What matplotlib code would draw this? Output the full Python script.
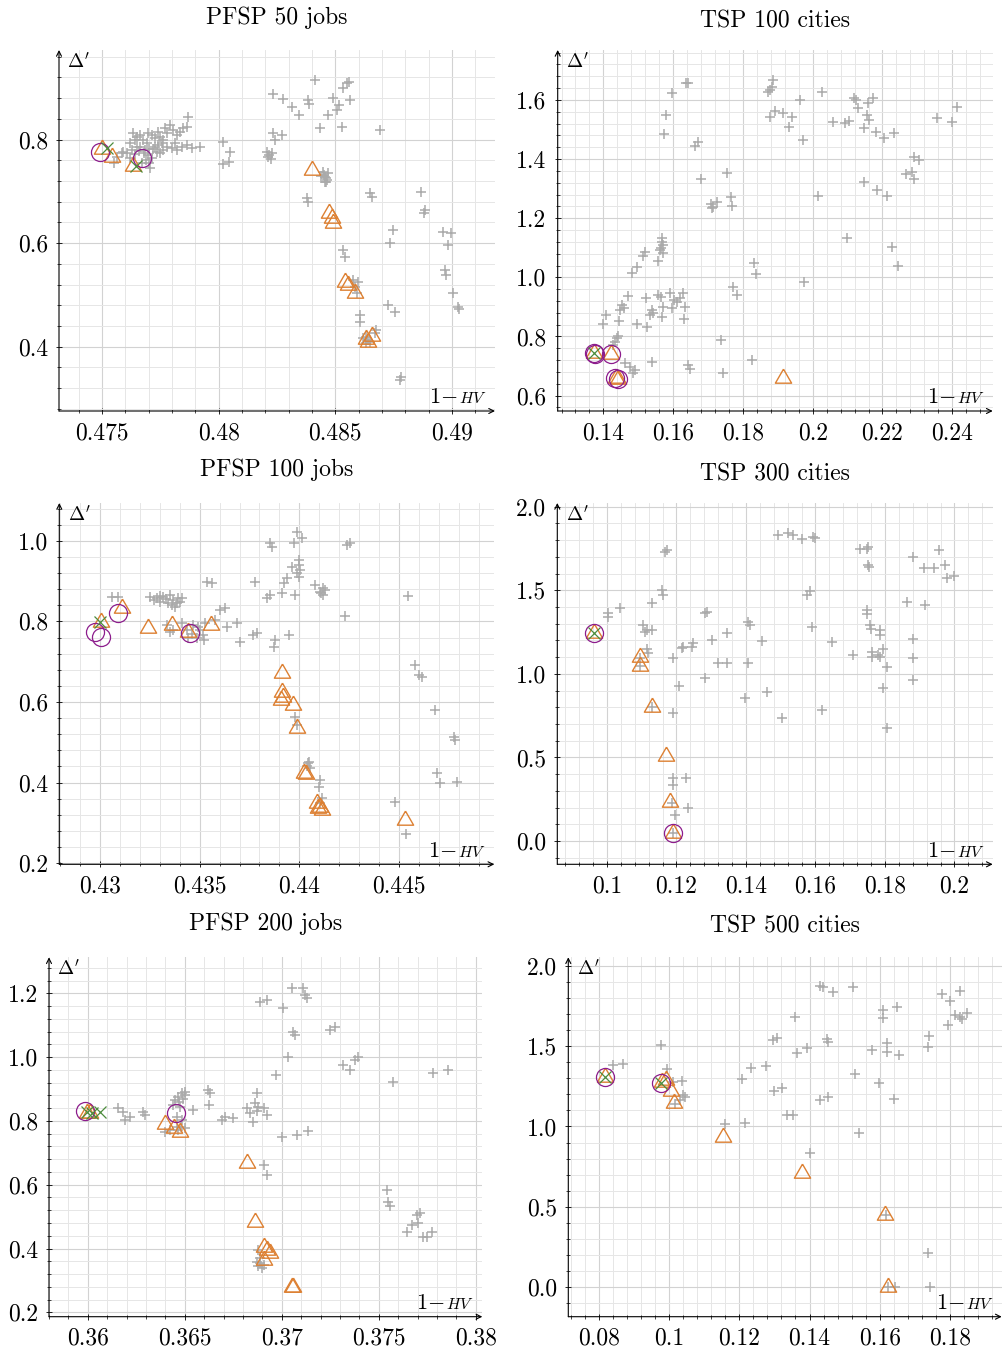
import numpy as np
import matplotlib
matplotlib.use("Agg")
import matplotlib.pyplot as plt
from matplotlib.ticker import MultipleLocator

plt.rcParams['font.family'] = 'serif'
plt.rcParams['font.serif'] = ['cmr10']
plt.rcParams['mathtext.fontset'] = 'cm'
plt.rcParams['axes.formatter.use_mathtext'] = True

# ---- PFSP 50 jobs ----
pfsp50_gray = np.array([
    [0.47586, 0.7737], [0.47592, 0.7768], [0.47635, 0.8124], [0.47650, 0.8058], [0.47664, 0.8091],
    [0.47678, 0.7994], [0.47692, 0.7930], [0.47699, 0.8124], [0.47714, 0.8091], [0.47728, 0.8027],
    [0.47742, 0.8155], [0.47749, 0.8058], [0.47757, 0.7930], [0.47771, 0.8220], [0.47778, 0.8124],
    [0.47792, 0.8284], [0.47806, 0.8187], [0.47813, 0.7930], [0.47821, 0.8091], [0.47835, 0.8155],
    [0.47849, 0.8220], [0.47864, 0.8251], [0.47870, 0.8444], [0.47778, 0.7865], [0.47799, 0.7834],
    [0.47821, 0.7801], [0.47842, 0.7865], [0.47864, 0.7898], [0.47885, 0.7834], [0.47920, 0.7865],
    [0.47714, 0.7641], [0.47707, 0.7447], [0.47735, 0.7768], [0.47699, 0.7704], [0.47650, 0.7865],
    [0.47628, 0.7801], [0.47607, 0.7737], [0.47564, 0.7671], [0.47550, 0.7544], [0.47664, 0.7865],
    [0.47685, 0.7801], [0.47728, 0.7865], [0.47749, 0.7737], [0.47621, 0.7930], [0.47642, 0.7994],
    [0.47700, 0.7550], [0.47690, 0.7600], [0.47660, 0.7780], [0.47680, 0.7740], [0.47720, 0.7820],
    [0.47740, 0.7900], [0.47760, 0.8000], [0.47640, 0.7720], [0.47700, 0.7820], [0.47620, 0.7650],
    [0.47670, 0.7550], [0.47760, 0.7790],
    [0.48018, 0.7961], [0.48049, 0.7755], [0.48018, 0.7523], [0.48043, 0.7575],
    [0.48206, 0.7768], [0.48213, 0.7672], [0.48227, 0.7736], [0.48223, 0.7626], [0.48216, 0.7700],
    [0.48234, 0.8122], [0.48241, 0.7994], [0.48270, 0.8090],
    [0.48234, 0.8876], [0.48277, 0.8786], [0.48313, 0.8638], [0.48344, 0.8477],
    [0.48384, 0.8766], [0.48388, 0.8689], [0.48412, 0.9153], [0.48434, 0.8219],
    [0.48491, 0.8799], [0.48505, 0.8573], [0.48517, 0.8670], [0.48469, 0.8477],
    [0.48534, 0.9000], [0.48548, 0.9089], [0.48559, 0.9121], [0.48562, 0.8766], [0.48527, 0.8251],
    [0.48690, 0.8187],
    [0.48448, 0.7382], [0.48455, 0.7285], [0.48462, 0.7188], [0.48469, 0.7349], [0.48455, 0.7188],
    [0.48460, 0.7250], [0.48452, 0.7320], [0.48466, 0.7220], [0.48440, 0.7290],
    [0.48377, 0.6866], [0.48384, 0.6802], [0.48648, 0.6963], [0.48659, 0.6899],
    [0.48534, 0.5868], [0.48541, 0.5739],
    [0.48576, 0.5288], [0.48584, 0.5159], [0.48591, 0.5031], [0.48598, 0.5256],
    [0.48605, 0.4612], [0.48605, 0.4483],
    [0.48633, 0.4193], [0.48633, 0.4065], [0.48676, 0.4322], [0.48669, 0.4258],
    [0.48640, 0.4130], [0.48650, 0.4100], [0.48620, 0.4160],
    [0.48726, 0.4806], [0.48755, 0.4677], [0.48733, 0.5997], [0.48748, 0.6254],
    [0.48869, 0.6995], [0.48883, 0.6641], [0.48879, 0.6577],
    [0.48961, 0.6222], [0.48997, 0.6190], [0.48983, 0.5965],
    [0.48968, 0.5482], [0.48976, 0.5385],
    [0.49004, 0.5031], [0.49026, 0.4773], [0.49030, 0.4721],
    [0.48776, 0.3356], [0.48783, 0.3420],
])
pfsp50_tri = np.array([
    [0.47500, 0.7813], [0.47543, 0.7672], [0.47635, 0.7498], [0.48402, 0.7414], [0.48474, 0.6577],
    [0.48484, 0.6480], [0.48491, 0.6396], [0.48541, 0.5256], [0.48555, 0.5192], [0.48584, 0.5031],
    [0.48641, 0.4097], [0.48655, 0.4206], [0.48633, 0.4142],
])
pfsp50_circ = np.array([[0.47493, 0.7770], [0.47671, 0.7640]])
pfsp50_cross = np.array([[0.47521, 0.7830], [0.47647, 0.7490]])

# ---- TSP 100 cities ----
tsp100_gray = np.array([
    [0.16436, 1.6564], [0.16370, 1.6580], [0.15958, 1.6248], [0.15796, 1.5493], [0.15748, 1.4850],
    [0.16703, 1.4591], [0.16627, 1.4455], [0.16789, 1.3328], [0.17534, 1.3520],
    [0.17075, 1.2483], [0.17152, 1.2392], [0.17266, 1.2561], [0.17104, 1.2336],
    [0.17658, 1.2731], [0.17696, 1.2426],
    [0.18871, 1.6676], [0.18823, 1.6451], [0.18775, 1.6338], [0.18728, 1.6282],
    [0.18919, 1.5628], [0.18775, 1.5436], [0.19158, 1.5549], [0.19397, 1.5436], [0.19320, 1.5098],
    [0.19635, 1.6000], [0.19731, 1.4647], [0.20275, 1.6282], [0.20571, 1.5245],
    [0.20924, 1.5211], [0.21049, 1.5301], [0.21183, 1.6056], [0.21240, 1.6000], [0.21307, 1.5718],
    [0.21574, 1.5887], [0.21737, 1.6056], [0.21555, 1.5493], [0.21603, 1.5324], [0.21477, 1.5042],
    [0.21813, 1.4929], [0.22032, 1.4726], [0.22337, 1.4895],
    [0.22908, 1.4083], [0.23051, 1.3971], [0.22671, 1.3497], [0.22833, 1.3576], [0.22890, 1.3328],
    [0.23551, 1.5380], [0.23980, 1.5267], [0.24124, 1.5775],
    [0.21477, 1.3238], [0.21851, 1.2956], [0.22118, 1.2764], [0.20141, 1.2764],
    [0.20991, 1.1321], [0.22281, 1.1039], [0.22434, 1.0397], [0.19750, 0.9833],
    [0.18317, 1.0476], [0.18374, 1.0115], [0.17725, 0.9664], [0.17820, 0.9405],
    [0.17362, 0.7883], [0.17419, 0.6755], [0.18250, 0.7206],
    [0.16436, 0.7037], [0.16483, 0.6891], [0.15404, 0.7150],
    [0.15671, 1.1321], [0.15719, 1.1096], [0.15624, 1.0927], [0.15700, 1.0814], [0.15576, 1.0566],
    [0.15680, 1.1200], [0.15650, 1.1000],
    [0.15194, 1.0870], [0.15127, 1.0724], [0.14955, 1.0363], [0.14831, 1.0160],
    [0.14716, 0.9371], [0.14525, 0.9067], [0.14592, 0.8954], [0.14478, 0.8898],
    [0.14076, 0.8728], [0.13981, 0.8424], [0.14458, 0.8537],
    [0.14430, 0.8018], [0.14382, 0.7939], [0.14334, 0.7826], [0.14287, 0.7714],
    [0.15213, 0.9292], [0.14955, 0.8424], [0.15261, 0.8311], [0.15385, 0.8898], [0.15433, 0.8785],
    [0.15337, 0.8728], [0.15576, 0.9405], [0.15643, 0.9326], [0.15910, 0.9461], [0.15719, 0.9011],
    [0.15671, 0.8673], [0.15958, 0.8954], [0.16101, 0.9180], [0.16197, 0.9292], [0.16292, 0.9461],
    [0.16340, 0.8988], [0.16311, 0.8582], [0.16025, 0.9236],
    [0.14621, 0.7093], [0.14764, 0.6981], [0.14907, 0.6868], [0.14860, 0.6755],
])
tsp100_tri = np.array([[0.13733, 0.7432], [0.14210, 0.7410], [0.14360, 0.6586],
                       [0.14420, 0.6560], [0.19158, 0.6586]])
tsp100_circ = np.array([[0.13733, 0.7432], [0.13750, 0.7400], [0.14210, 0.7410],
                        [0.14334, 0.6586], [0.14430, 0.6570]])
tsp100_cross = np.array([[0.13733, 0.7432]])

# ---- PFSP 100 jobs ----
pfsp100_gray = np.array([
    [0.43059, 0.8600], [0.43092, 0.8600],
    [0.43251, 0.8617], [0.43285, 0.8576], [0.43318, 0.8617], [0.43352, 0.8658], [0.43368, 0.8534],
    [0.43385, 0.8451], [0.43402, 0.8493], [0.43377, 0.8368], [0.43410, 0.8576], [0.43301, 0.8493],
    [0.43270, 0.8540], [0.43330, 0.8560], [0.43340, 0.8450], [0.43390, 0.8580], [0.43300, 0.8620],
    [0.43360, 0.8400],
    [0.43335, 0.7913], [0.43352, 0.7747], [0.43368, 0.7789], [0.43410, 0.7954], [0.43435, 0.7789],
    [0.43469, 0.7913], [0.43502, 0.7789], [0.43519, 0.7664], [0.43527, 0.7954], [0.43578, 0.8037],
    [0.43603, 0.8286], [0.43628, 0.8327], [0.43636, 0.7872], [0.43686, 0.7954], [0.43703, 0.7499],
    [0.43770, 0.7664], [0.43787, 0.7706], [0.43485, 0.7590], [0.43520, 0.7540],
    [0.43460, 0.7700], [0.43490, 0.7850], [0.43440, 0.7600],
    [0.43536, 0.8990], [0.43561, 0.8948], [0.43778, 0.8990],
    [0.43837, 0.8576], [0.43854, 0.8658], [0.43854, 0.9942], [0.43862, 0.9859],
    [0.43879, 0.7540], [0.43871, 0.7375],
    [0.43912, 0.8700], [0.43924, 0.8948], [0.43937, 0.9072], [0.43946, 0.7664],
    [0.43963, 0.9362], [0.43971, 0.9942], [0.43979, 0.8658], [0.43988, 1.0232], [0.43996, 0.9528],
    [0.43996, 0.9114], [0.44013, 1.0066], [0.44004, 0.9279], [0.43990, 0.9200], [0.44000, 0.9400],
    [0.44080, 0.8907], [0.44105, 0.8741], [0.44130, 0.8783], [0.44121, 0.8658],
    [0.44110, 0.8700], [0.44120, 0.8820],
    [0.44239, 0.9901], [0.44256, 0.9942], [0.44230, 0.8145],
    [0.44543, 0.8642], [0.44582, 0.6919], [0.44599, 0.6671], [0.44615, 0.6629],
    [0.44682, 0.5801], [0.44774, 0.5138], [0.44783, 0.5056],
    [0.44691, 0.4228], [0.44707, 0.3979], [0.44791, 0.4021],
    [0.44481, 0.3524], [0.44537, 0.2720],
    [0.43979, 0.5635], [0.43988, 0.5428], [0.44046, 0.4476], [0.44055, 0.4352],
    [0.44050, 0.4500], [0.44040, 0.4400],
    [0.44105, 0.4062], [0.44097, 0.3896], [0.44105, 0.3482], [0.44113, 0.3606],
])
pfsp100_tri = np.array([
    [0.43109, 0.8327], [0.43243, 0.7830], [0.43360, 0.7913], [0.43440, 0.7747], [0.43556, 0.7913],
    [0.43003, 0.7996], [0.43912, 0.6712], [0.43912, 0.6257], [0.43917, 0.6132], [0.43909, 0.6050],
    [0.43967, 0.5925], [0.43988, 0.5346], [0.44025, 0.4228], [0.44035, 0.4211], [0.44088, 0.3482],
    [0.44105, 0.3399], [0.44113, 0.3316], [0.44096, 0.3358], [0.44532, 0.3068],
])
pfsp100_circ = np.array([[0.42975, 0.7747], [0.43003, 0.7623], [0.43092, 0.8203], [0.43452, 0.7722]])
pfsp100_cross = np.array([[0.43000, 0.7996]])

# ---- TSP 300 cities ----
tsp300_gray = np.array([
    [0.10038, 1.3619], [0.10038, 1.3420], [0.10374, 1.3918],
    [0.11046, 1.2921], [0.11142, 1.2622], [0.11286, 1.2622], [0.11094, 1.2522],
    [0.11142, 1.1466], [0.11190, 1.1267], [0.11286, 1.4217],
    [0.11574, 1.5015], [0.11603, 1.4716], [0.11670, 1.7308], [0.11718, 1.7408],
    [0.11910, 1.0927], [0.12083, 0.9272], [0.11910, 0.7637],
    [0.12150, 1.1525], [0.12198, 1.1625], [0.12438, 1.1625], [0.12486, 1.1824],
    [0.12822, 1.3619], [0.12870, 1.3719], [0.12812, 0.9731], [0.13013, 1.2024],
    [0.13205, 1.0628], [0.13445, 1.0628], [0.13445, 1.2463],
    [0.13973, 0.8535], [0.14069, 1.3121], [0.14117, 1.2922], [0.14069, 1.0628],
    [0.14453, 1.1984], [0.14597, 0.8893],
    [0.14933, 1.8305], [0.15221, 1.8405], [0.15365, 1.8305], [0.15605, 1.8046],
    [0.15941, 1.8205], [0.15989, 1.8106],
    [0.15029, 0.7338], [0.15749, 1.4716], [0.15845, 1.4975], [0.15893, 1.2822],
    [0.16180, 0.7837], [0.16468, 1.1884],
    [0.17092, 1.1127], [0.17284, 1.7468], [0.17476, 1.7448], [0.17524, 1.7607],
    [0.17524, 1.6510], [0.17553, 1.6371], [0.17476, 1.3818], [0.17476, 1.3579],
    [0.17572, 1.2921], [0.17591, 1.2662], [0.17620, 1.1326], [0.17620, 1.1027],
    [0.17812, 1.1127], [0.17860, 1.1027], [0.17860, 1.2622], [0.17860, 1.2323], [0.17956, 1.1466],
    [0.18052, 1.0429], [0.17956, 0.9133], [0.18071, 0.6780],
    [0.18628, 1.4317], [0.18820, 1.7009], [0.18820, 1.2064], [0.18820, 1.0927], [0.18820, 0.9631],
    [0.19127, 1.6311], [0.19156, 1.4118], [0.19415, 1.6311], [0.19559, 1.7408],
    [0.19732, 1.6510], [0.19799, 1.5713], [0.19991, 1.5852],
    [0.10950, 1.0927], [0.10950, 1.0469], [0.11286, 0.7996],
    [0.11910, 0.3749], [0.11910, 0.3350], [0.12275, 0.3789], [0.12342, 0.1954],
    [0.11958, 0.1556], [0.11862, 0.2293], [0.11910, 0.0458],
])
tsp300_tri = np.array([[0.09626, 1.2463], [0.10950, 1.1027], [0.10950, 1.0469], [0.11286, 0.7996],
                       [0.11699, 0.5085], [0.11814, 0.2313], [0.11891, 0.0458]])
tsp300_circ = np.array([[0.09626, 1.2463], [0.11891, 0.0458]])
tsp300_cross = np.array([[0.09626, 1.2463]])

# ---- PFSP 200 jobs ----
pfsp200_gray = np.array([
    [0.36158, 0.8395], [0.36184, 0.8290], [0.36192, 0.8029], [0.36218, 0.8113],
    [0.36287, 0.8290], [0.36296, 0.8186], [0.36399, 0.7663], [0.36424, 0.7716],
    [0.36450, 0.8656], [0.36467, 0.8761], [0.36485, 0.8865], [0.36502, 0.8917], [0.36476, 0.8447],
    [0.36459, 0.8134], [0.36485, 0.8029], [0.36502, 0.7768], [0.36467, 0.7716],
    [0.36470, 0.8600], [0.36490, 0.8700], [0.36440, 0.8500], [0.36500, 0.8800], [0.36480, 0.7800],
    [0.36460, 0.7800],
    [0.36545, 0.8343], [0.36622, 0.8970], [0.36631, 0.8865], [0.36627, 0.8499],
    [0.36691, 0.8029], [0.36709, 0.8134], [0.36751, 0.8081],
    [0.36820, 0.8395], [0.36837, 0.8238], [0.36854, 0.7977], [0.36871, 0.8865], [0.36862, 0.8551],
    [0.36906, 0.8395], [0.36923, 0.8186], [0.36870, 0.8300], [0.36880, 0.8450],
    [0.36888, 1.1739], [0.36923, 1.1791], [0.36970, 0.9440], [0.37009, 1.1530], [0.37034, 1.0015],
    [0.37060, 1.0798], [0.37069, 1.0694], [0.37052, 1.2157], [0.37112, 1.2157], [0.37121, 1.1948],
    [0.37130, 1.1843], [0.37000, 0.7507], [0.37077, 0.7559], [0.37137, 0.7685],
    [0.36906, 0.6619], [0.36923, 0.6305], [0.37249, 1.0851], [0.37275, 1.0955],
    [0.37318, 0.9753], [0.37352, 0.9597], [0.37378, 0.9910], [0.37395, 1.0015],
    [0.37576, 0.9231], [0.37782, 0.9513], [0.37859, 0.9597],
    [0.37541, 0.5835], [0.37550, 0.5469], [0.37558, 0.5333],
    [0.37644, 0.4529], [0.37670, 0.4738], [0.37696, 0.5051], [0.37713, 0.5103], [0.37704, 0.4790],
    [0.37730, 0.4372], [0.37747, 0.4372], [0.37773, 0.4529],
    [0.36880, 0.3954], [0.36888, 0.3693], [0.36906, 0.3484], [0.36897, 0.3379], [0.36871, 0.3588],
    [0.36890, 0.3550], [0.36880, 0.3450],
])
pfsp200_tri = np.array([
    [0.35998, 0.8238], [0.36012, 0.8238], [0.36399, 0.7904], [0.36442, 0.7768], [0.36476, 0.7643],
    [0.36823, 0.6671], [0.36863, 0.4842], [0.36906, 0.4059], [0.36940, 0.3850], [0.36906, 0.3640],
    [0.36923, 0.3954], [0.37052, 0.2805], [0.37060, 0.2784],
])
pfsp200_circ = np.array([[0.35986, 0.8311], [0.36454, 0.8238]])
pfsp200_cross = np.array([[0.35995, 0.8290], [0.36021, 0.8259], [0.36064, 0.8290]])

# ---- TSP 500 cities ----
tsp500_gray = np.array([
    [0.08417, 1.3824], [0.08683, 1.3886], [0.09774, 1.5067], [0.09955, 1.3555],
    [0.10362, 1.2850], [0.10391, 1.1959], [0.10315, 1.1648], [0.10173, 1.1399], [0.10457, 1.1855],
    [0.10125, 1.2788],
    [0.11596, 1.0135], [0.12070, 1.2954], [0.12165, 1.0239], [0.12326, 1.3617], [0.12753, 1.3783],
    [0.12972, 1.5378], [0.13086, 1.5523], [0.12991, 1.2228], [0.13209, 1.2373],
    [0.13370, 1.0715], [0.13541, 1.0715], [0.13589, 1.6829], [0.13636, 1.4591], [0.13940, 1.4860],
    [0.14015, 0.8373], [0.14300, 1.8736], [0.14395, 1.8653], [0.14680, 1.8383],
    [0.14300, 1.1648], [0.14537, 1.1814], [0.14490, 1.5420], [0.14537, 1.5275],
    [0.15249, 1.8653], [0.15296, 1.3264], [0.15420, 0.9575], [0.15771, 1.4757], [0.15989, 1.2726],
    [0.16103, 1.7244], [0.16103, 1.6725], [0.16198, 1.5171], [0.16198, 1.4653], [0.16482, 1.7451],
    [0.16558, 1.4446], [0.16416, 1.1689],
    [0.17384, 1.4964], [0.17412, 1.5627], [0.17763, 1.8238], [0.18000, 1.7824], [0.17953, 1.6311],
    [0.18285, 1.8446], [0.18143, 1.6933], [0.18285, 1.6829], [0.18333, 1.6663], [0.18475, 1.7037],
    [0.17365, 0.2114], [0.17431, 0.0000], [0.16245, 0.0041], [0.16435, 0.0000], [0.16179, 0.4498],
])
tsp500_tri = np.array([
    [0.08180, 1.3099], [0.09793, 1.2788], [0.09917, 1.2891], [0.10049, 1.2228], [0.10144, 1.1441],
    [0.11530, 0.9327], [0.13778, 0.7088], [0.16150, 0.4498], [0.16226, 0.0041],
])
tsp500_circ = np.array([[0.08180, 1.3050], [0.09774, 1.2720]])
tsp500_cross = np.array([[0.08180, 1.3050], [0.09774, 1.2720]])

# panel layout: pixel box (left, top, right, bottom), limits, ticks
panels = [
    dict(title='PFSP 50 jobs', pad=19, box=(59, 50, 495, 411),
         xlim=(0.47316, 0.49184), ylim=(0.276, 0.973),
         xt=[0.475, 0.48, 0.485, 0.49], xl=['0.475', '0.48', '0.485', '0.49'], xm=0.001,
         yt=[0.4, 0.6, 0.8], yl=['0.4', '0.6', '0.8'], ym=0.04,
         data=(pfsp50_gray, pfsp50_tri, pfsp50_circ, pfsp50_cross)),
    dict(title='TSP 100 cities', pad=16.5, box=(557.7, 50, 992.7, 411),
         xlim=(0.1269, 0.2516), ylim=(0.548, 1.769),
         xt=[0.14, 0.16, 0.18, 0.2, 0.22, 0.24], xl=['0.14', '0.16', '0.18', '0.2', '0.22', '0.24'], xm=0.004,
         yt=[0.6, 0.8, 1.0, 1.2, 1.4, 1.6], yl=['0.6', '0.8', '1.0', '1.2', '1.4', '1.6'], ym=0.04,
         data=(tsp100_gray, tsp100_tri, tsp100_circ, tsp100_cross)),
    dict(title='PFSP 100 jobs', pad=19.5, box=(59.3, 503, 494.3, 864.3),
         xlim=(0.42796, 0.44978), ylim=(0.197, 1.094),
         xt=[0.43, 0.435, 0.44, 0.445], xl=['0.43', '0.435', '0.44', '0.445'], xm=0.001,
         yt=[0.2, 0.4, 0.6, 0.8, 1.0], yl=['0.2', '0.4', '0.6', '0.8', '1.0'], ym=0.04,
         data=(pfsp100_gray, pfsp100_tri, pfsp100_circ, pfsp100_cross)),
    dict(title='TSP 300 cities', pad=16.5, box=(557.3, 503, 992.7, 864.3),
         xlim=(0.0857, 0.2110), ylim=(-0.139, 2.022),
         xt=[0.1, 0.12, 0.14, 0.16, 0.18, 0.2], xl=['0.1', '0.12', '0.14', '0.16', '0.18', '0.2'], xm=0.004,
         yt=[0.0, 0.5, 1.0, 1.5, 2.0], yl=['0.0', '0.5', '1.0', '1.5', '2.0'], ym=0.1,
         data=(tsp300_gray, tsp300_tri, tsp300_circ, tsp300_cross)),
    dict(title='PFSP 200 jobs', pad=19.5, box=(49, 957.3, 482.3, 1316.7),
         xlim=(0.358, 0.38034), ylim=(0.1862, 1.313),
         xt=[0.36, 0.365, 0.37, 0.375, 0.38], xl=['0.36', '0.365', '0.37', '0.375', '0.38'], xm=0.001,
         yt=[0.2, 0.4, 0.6, 0.8, 1.0, 1.2], yl=['0.2', '0.4', '0.6', '0.8', '1.0', '1.2'], ym=0.04,
         data=(pfsp200_gray, pfsp200_tri, pfsp200_circ, pfsp200_cross)),
    dict(title='TSP 500 cities', pad=17.5, box=(568.3, 957.3, 1001.7, 1316.7),
         xlim=(0.07135, 0.1947), ylim=(-0.183, 2.052),
         xt=[0.08, 0.1, 0.12, 0.14, 0.16, 0.18], xl=['0.08', '0.1', '0.12', '0.14', '0.16', '0.18'], xm=0.004,
         yt=[0.0, 0.5, 1.0, 1.5, 2.0], yl=['0.0', '0.5', '1.0', '1.5', '2.0'], ym=0.1,
         data=(tsp500_gray, tsp500_tri, tsp500_circ, tsp500_cross)),
]

W, H = 1002, 1355
fig = plt.figure(figsize=(W / 100, H / 100), dpi=100)

GRAY = '#aaaaaa'
ORANGE = '#dd8032'
PURPLE = '#8c1c8c'
GREEN = '#4c8c3c'
TRI = [(0, 1), (-0.866, -0.5), (0.866, -0.5), (0, 1)]

for p in panels:
    l, t, r, b = p['box']
    ax = fig.add_axes([l / W, 1 - b / H, (r - l) / W, (b - t) / H])
    gray, tri, circ, cross = p['data']

    ax.plot(gray[:, 0], gray[:, 1], ls='none', marker='+', ms=7, mew=1.1, color=GRAY, zorder=3)
    ax.plot(tri[:, 0], tri[:, 1], ls='none', marker=TRI, ms=13.5, mew=1.0, mfc='none', mec=ORANGE, zorder=4)
    ax.plot(circ[:, 0], circ[:, 1], ls='none', marker='o', ms=13, mew=0.9, mfc='none', mec=PURPLE, zorder=5)
    ax.plot(cross[:, 0], cross[:, 1], ls='none', marker='x', ms=9, mew=0.9, color=GREEN, zorder=6)

    ax.set_xlim(*p['xlim'])
    ax.set_ylim(*p['ylim'])
    ax.set_xticks(p['xt'], p['xl'])
    ax.set_yticks(p['yt'], p['yl'])
    ax.xaxis.set_minor_locator(MultipleLocator(p['xm']))
    ax.yaxis.set_minor_locator(MultipleLocator(p['ym']))
    ax.grid(which='major', color='#d2d2d2', lw=0.8, zorder=0)
    ax.grid(which='minor', color='#e6e6e6', lw=0.7, zorder=0)
    ax.set_axisbelow(True)
    ax.tick_params(which='major', direction='inout', length=4, width=0.6, labelsize=17, pad=6)
    ax.tick_params(which='minor', direction='inout', length=3, width=0.5)
    for s in ax.spines.values():
        s.set_visible(False)

    # axis lines with arrow heads
    arrow = dict(arrowstyle='->', lw=0.8, color='k', shrinkA=0, shrinkB=0, mutation_scale=9)
    ax.annotate('', xy=(1, 0), xytext=(0, 0), xycoords='axes fraction', arrowprops=arrow,
                annotation_clip=False, zorder=10)
    ax.annotate('', xy=(0, 1), xytext=(0, 0), xycoords='axes fraction', arrowprops=arrow,
                annotation_clip=False, zorder=10)

    ax.set_title(p['title'], fontsize=17, pad=p['pad'])
    ax.annotate(r"$\Delta'$", xy=(0, 1), xycoords='axes fraction', xytext=(6, -1.5),
                textcoords='offset points', ha='left', va='top', fontsize=14)
    ax.annotate(r'$\mathit{HV}$', xy=(1, 0), xycoords='axes fraction', xytext=(-6, 5.5),
                textcoords='offset points', ha='right', va='baseline', fontsize=11.5)
    ax.annotate(r'$1{-}$', xy=(1, 0), xycoords='axes fraction', xytext=(-27, 5.5),
                textcoords='offset points', ha='right', va='baseline', fontsize=16)

fig.savefig('out.png', dpi=100)
